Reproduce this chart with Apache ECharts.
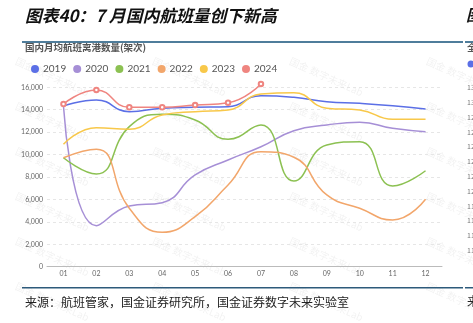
<!DOCTYPE html>
<html>
<head>
<meta charset="utf-8">
<script src="https://cdn.jsdelivr.net/npm/echarts@6/dist/echarts.min.js"></script>
<style>
  html, body { margin: 0; padding: 0; background: #fff; }
  #chart { width: 473px; height: 323px; }
</style>
</head>
<body>
<div id="chart"></div>
<script>
// Monthly average domestic departures (flights)
const months = ['01', '02', '03', '04', '05', '06', '07', '08', '09', '10', '11', '12'];
const years = ['2019', '2020', '2021', '2022', '2023', '2024'];
const flights2019 = [14330, 14870, 13830, 14130, 14220, 14270, 15250, 15110, 14720, 14570, 14360, 14070];
const flights2020 = [14330, 3660, 5410, 5710, 8180, 9520, 10700, 12130, 12640, 12880, 12340, 12040];
const flights2021 = [9720, 8270, 12490, 13590, 13090, 11360, 12640, 7640, 10850, 11150, 7200, 8560];
const flights2022 = [9720, 10470, 5210, 3070, 4460, 7290, 10260, 9760, 6400, 5210, 4170, 6010];
const flights2023 = [10920, 12400, 12260, 13530, 13830, 13980, 15400, 15520, 14130, 13980, 13150, 13150];
const flights2024 = [14510, 15760, 14220, 14220, 14420, 14630, 16300];
const yTicks = [0, 2000, 4000, 6000, 8000, 10000, 12000, 14000, 16000];

// Clipped neighbouring panel axis labels on the right edge
const sideLabels = ['13', '13', '12', '12', '12', '12', '12', '12', '11', '11', '11', '11'];

const palette = ['#5b6fe6', '#a68fd6', '#8cc152', '#f2a66b', '#f8c84a', '#ef8580'];
const seriesData = [flights2019, flights2020, flights2021, flights2022, flights2023, flights2024];

const chart = echarts.init(document.getElementById('chart'), null, { renderer: 'canvas' });

const cjk = '"Noto Sans CJK SC", "Noto Sans", sans-serif';

// faint repeated watermark
const watermarks = [];
const wmCols = [18, 155, 292, 429];
const wmRows = [56, 101, 146, 191, 236, 281];
wmCols.forEach(x => wmRows.forEach(y => {
  watermarks.push({
    type: 'text', x: x, y: y, rotation: -0.42, silent: true, z: 0,
    style: { text: '国金 数字未来Lab', fill: 'rgba(0,0,0,0.055)', font: '10px ' + cjk }
  });
}));

const sideGraphics = [
  { type: 'text', x: 466, y: 7, style: { text: '图表', fill: '#111', font: 'italic bold 16px ' + cjk } },
  { type: 'text', x: 467, y: 43, style: { text: '全', fill: '#555', font: 'bold 9.5px ' + cjk } },
  { type: 'circle', shape: { cx: 471, cy: 64, r: 3.5 }, style: { fill: palette[0] } }
];
sideLabels.forEach((t, i) => {
  sideGraphics.push({
    type: 'text', x: 467, y: 84 + i * 14.8,
    style: { text: t, fill: '#777', font: '7px ' + cjk }
  });
});
sideGraphics.push({ type: 'text', x: 467, y: 295, style: { text: '来', fill: '#222', font: '12px ' + cjk } });

const option = {
  animation: false,
  backgroundColor: '#fff',
  color: palette,
  graphic: [
    ...watermarks,
    { type: 'text', x: 25, y: 7,
      style: { text: '图表40：7 月国内航班量创下新高', fill: '#111', font: 'italic bold 16.8px ' + cjk } },
    { type: 'rect', shape: { x: 22, y: 41, width: 441, height: 2 }, style: { fill: '#4f7d9b' } },
    { type: 'rect', shape: { x: 465, y: 41, width: 8, height: 2 }, style: { fill: '#4f7d9b' } },
    { type: 'text', x: 25, y: 43,
      style: { text: '国内月均航班离港数量(架次)', fill: '#555', font: 'bold 9.5px ' + cjk } },
    { type: 'rect', shape: { x: 22, y: 287, width: 441, height: 1.5 }, style: { fill: '#2d5a7b' } },
    { type: 'rect', shape: { x: 465, y: 287, width: 8, height: 1.5 }, style: { fill: '#2d5a7b' } },
    { type: 'text', x: 25, y: 296,
      style: { text: '来源：航班管家，国金证券研究所，国金证券数字未来实验室', fill: '#222', font: '12px ' + cjk } },
    ...sideGraphics
  ],
  legend: {
    left: 26, top: 59,
    icon: 'circle', itemWidth: 8, itemHeight: 8, itemGap: 7,
    textStyle: { color: '#555', fontSize: 10, fontFamily: 'Lato, "Noto Sans", sans-serif', padding: [0, 0, 0, -1] },
    data: years
  },
  grid: { left: 47, right: 31, top: 87.3, bottom: 56.3 },
  xAxis: {
    type: 'category',
    data: months,
    boundaryGap: true,
    axisLine: { lineStyle: { color: '#bbb', width: 1 } },
    axisTick: { show: false },
    axisLabel: { color: '#666', fontSize: 7, margin: 4, fontFamily: 'Lato, sans-serif' }
  },
  yAxis: {
    type: 'value',
    min: 0, max: 16000, interval: 2000,
    axisLine: { show: false },
    axisTick: { show: false },
    axisLabel: {
      color: '#666', fontSize: 7, margin: 4, fontFamily: 'Lato, sans-serif',
      formatter: v => yTicks.includes(v) ? v.toLocaleString('en-US') : ''
    },
    splitLine: { lineStyle: { color: '#e6e6e6', type: [3, 3] } }
  },
  series: years.map((y, i) => ({
    name: y,
    type: 'line',
    data: seriesData[i],
    smooth: 0.5,
    clip: false,
    showSymbol: y === '2024',
    symbol: 'emptyCircle',
    symbolSize: 4.5,
    lineStyle: { width: 1.5, color: palette[i] },
    itemStyle: { color: palette[i], borderWidth: 1.2 },
    z: 2 + i
  }))
};

chart.setOption(option);
</script>
</body>
</html>
